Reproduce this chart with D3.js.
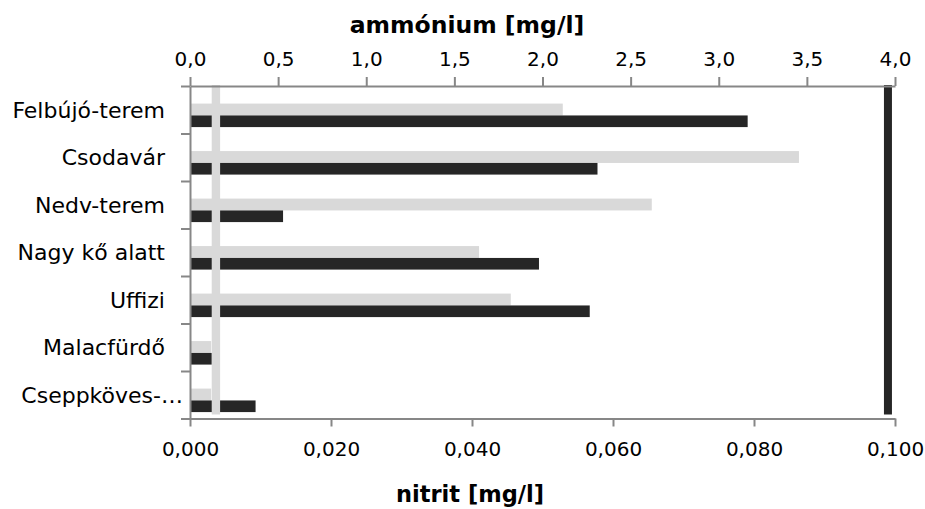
<!DOCTYPE html>
<html>
<head>
<meta charset="utf-8">
<script src="https://cdn.jsdelivr.net/npm/d3@7"></script>
<style>
  body { margin: 0; background: #fff; }
  text { font-family: "DejaVu Sans", sans-serif; fill: #000; }
</style>
</head>
<body>
<div id="chart"></div>
<script>
// Data
var sites = ["Felbújó-terem", "Csodavár", "Nedv-terem", "Nagy kő alatt", "Uffizi", "Malacfürdő", "Cseppköves-…"];
var ammonium = [2.115, 3.455, 2.62, 1.64, 1.82, 0.12, 0.12];           // top axis, light bars
var nitrit = [0.0791, 0.0578, 0.0132, 0.0495, 0.0567, 0.0031, 0.0093];   // bottom axis, dark bars
var ammoniumLimit = 0.147;
var nitritLimit = 0.0990;
var ammTicks = [0, 0.5, 1, 1.5, 2, 2.5, 3, 3.5, 4];
var nitTicks = [0, 0.02, 0.04, 0.06, 0.08, 0.1];

var width = 925, height = 509;
var plotLeft = 190, plotRight = 895, plotTop = 86, plotBottom = 418.5;

var svg = d3.select("#chart").append("svg")
    .attr("width", width)
    .attr("height", height);

var xA = d3.scaleLinear().domain([0, 4]).range([plotLeft, plotRight]);
var xN = d3.scaleLinear().domain([0, 0.1]).range([plotLeft, plotRight]);
var y = d3.scaleBand().domain(sites).range([plotTop, plotBottom]);
var yIdx = d3.scaleLinear().domain([0, sites.length]).range([plotTop, plotBottom]);
var step = y.step();

var light = "#d9d9d9", dark = "#262626", axisCol = "#878787";

// light bars (ammonium)
svg.selectAll("rect.amm")
    .data(sites)
    .enter()
    .append("rect")
    .attr("class", "amm")
    .attr("x", xA(0))
    .attr("y", function (d) { return y(d) + step * 0.37; })
    .attr("width", function (d, i) { return xA(ammonium[i]) - xA(0); })
    .attr("height", step * 0.25)
    .attr("fill", light);

// dark bars (nitrit)
svg.selectAll("rect.nit")
    .data(sites)
    .enter()
    .append("rect")
    .attr("class", "nit")
    .attr("x", xN(0))
    .attr("y", function (d) { return y(d) + step * 0.62; })
    .attr("width", function (d, i) { return xN(nitrit[i]) - xN(0); })
    .attr("height", step * 0.245)
    .attr("fill", dark);

// limit bars
svg.append("rect")
    .attr("x", xA(ammoniumLimit) - 4.2)
    .attr("y", plotTop - 1)
    .attr("width", 8.4)
    .attr("height", plotBottom - plotTop - 3)
    .attr("fill", light);

svg.append("rect")
    .attr("x", xN(nitritLimit) - 4)
    .attr("y", plotTop - 1)
    .attr("width", 8)
    .attr("height", plotBottom - plotTop - 3)
    .attr("fill", dark);

// axes
function styleAxis(g) {
    g.select(".domain").attr("stroke", axisCol).attr("stroke-width", 2);
    g.selectAll(".tick line").attr("stroke", axisCol).attr("stroke-width", 2);
    g.selectAll(".tick text")
        .style("font-family", "DejaVu Sans")
        .attr("font-size", 20)
        .attr("fill", "#000");
}

var comma = function (f) { return function (v) { return d3.format(f)(v).replace(".", ","); }; };

svg.append("g")
    .attr("transform", "translate(0," + plotTop + ")")
    .call(d3.axisTop(xA).tickValues(ammTicks).tickSize(9).tickSizeOuter(0).tickPadding(11).tickFormat(comma(".1f")))
    .call(styleAxis);

svg.append("g")
    .attr("transform", "translate(0," + plotBottom + ")")
    .call(d3.axisBottom(xN).tickValues(nitTicks).tickSize(8).tickSizeOuter(0).tickPadding(15).tickFormat(comma(".3f")))
    .call(styleAxis);

svg.append("g")
    .attr("transform", "translate(" + plotLeft + ",0)")
    .call(d3.axisLeft(yIdx).tickValues(d3.range(sites.length + 1)).tickSize(9).tickSizeOuter(0).tickFormat(""))
    .call(styleAxis);

// category labels
svg.selectAll("text.site")
    .data(sites)
    .enter()
    .append("text")
    .attr("class", "site")
    .attr("x", function (d) { return d.slice(-1) === "…" ? 183 : 165; })
    .attr("y", function (d) { return y(d) + step / 2; })
    .attr("dy", "0.36em")
    .attr("text-anchor", "end")
    .attr("font-size", 22)
    .text(function (d) { return d; });

// axis titles
svg.append("text")
    .attr("x", 467)
    .attr("y", 33)
    .attr("text-anchor", "middle")
    .attr("font-size", 23.5)
    .attr("font-weight", "bold")
    .text("ammónium [mg/l]");

svg.append("text")
    .attr("x", 470)
    .attr("y", 502)
    .attr("text-anchor", "middle")
    .attr("font-size", 22.5)
    .attr("font-weight", "bold")
    .text("nitrit [mg/l]");
</script>
</body>
</html>
